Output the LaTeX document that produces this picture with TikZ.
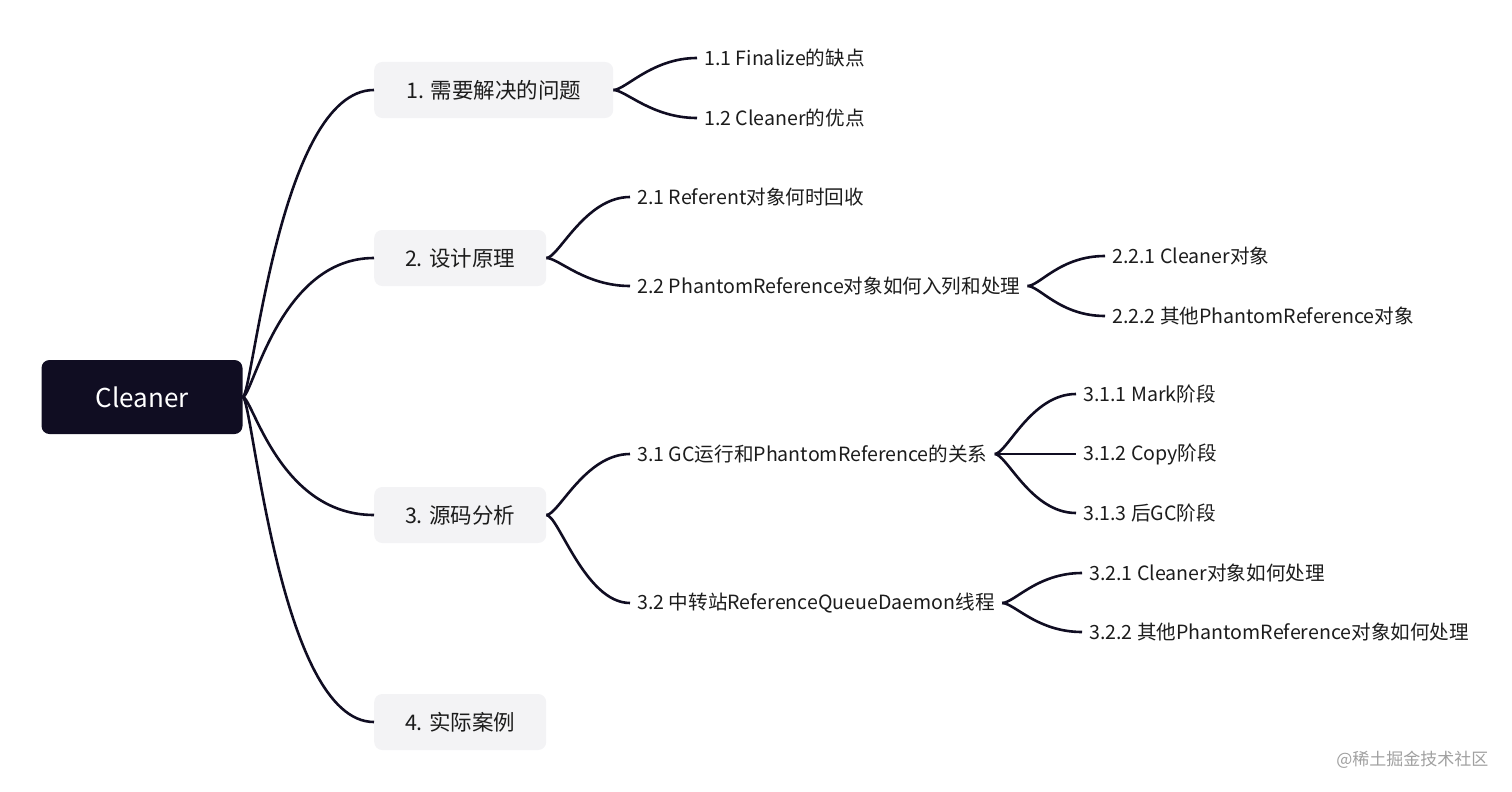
\documentclass[tikz,border=0pt]{standalone}
\usepackage{fontspec}
\setmainfont{Noto Sans CJK SC}
\usetikzlibrary{positioning}
\definecolor{navy}{HTML}{100D22}
\definecolor{boxgray}{HTML}{F3F3F5}
\definecolor{txt}{HTML}{1C1C1C}
\definecolor{mark}{HTML}{A0A0A0}

\begin{document}
\begin{tikzpicture}[x=1pt,y=-1pt,
  rootbox/.style={fill=navy, rounded corners=8pt, text=white, font=\fontsize{26}{30}\selectfont, minimum width=201pt, minimum height=74pt},
  topic/.style={fill=boxgray, rounded corners=8pt, text=txt, font=\fontsize{21.5}{25}\selectfont, minimum height=56pt, minimum width=172pt, inner xsep=30pt, anchor=west},
  leaf/.style={text=txt, font=\fontsize{19.6}{23}\selectfont, inner xsep=7pt, inner ysep=2pt, anchor=west},
  conn/.style={draw=navy, line width=2.6pt}]
				\useasboundingbox (0,0) rectangle (1512,792);
				\node[rootbox] (C) at (142,397) {Cleaner};
				\node[topic, minimum width=239pt] (T1) at (374,90) {1. 需要解决的问题};
				\node[topic] (T2) at (374,258) {2. 设计原理};
				\node[topic] (T3) at (374,515) {3. 源码分析};
				\node[topic] (T4) at (374,722) {4. 实际案例};
				\node[leaf] (L11) at (697,58) {1.1 Finalize的缺点};
				\node[leaf] (L12) at (697,118) {1.2 Cleaner的优点};
				\node[leaf] (L21) at (630,197) {2.1 Referent对象何时回收};
				\node[leaf] (L22) at (630,286) {2.2 PhantomReference对象如何入列和处理};
				\node[leaf] (L221) at (1105,256) {2.2.1 Cleaner对象};
				\node[leaf] (L222) at (1105,316) {2.2.2 其他PhantomReference对象};
				\node[leaf] (L31) at (630,454) {3.1 GC运行和PhantomReference的关系};
				\node[leaf] (L32) at (630,603) {3.2 中转站ReferenceQueueDaemon线程};
				\node[leaf] (L311) at (1076,394) {3.1.1 Mark阶段};
				\node[leaf] (L312) at (1076,454) {3.1.2 Copy阶段};
				\node[leaf] (L313) at (1076,513) {3.1.3 后GC阶段};
				\node[leaf] (L321) at (1082,573) {3.2.1 Cleaner对象如何处理};
				\node[leaf] (L322) at (1082,632) {3.2.2 其他PhantomReference对象如何处理};
				\node[anchor=east, text=mark, font=\fontsize{17}{20}\selectfont] (wm) at (1492,760) {@稀土掘金技术社区};
				\foreach \t in {T1,T2,T3,T4}
					\draw[conn] (C.east) .. controls +(10,0) and +(-95,0) .. (\t.west);
				\foreach \a/\b in {T1/L11,T1/L12,T2/L21,T2/L22,L22/L221,L22/L222,T3/L31,T3/L32,L31/L311,L31/L312,L31/L313,L32/L321,L32/L322}
					\draw[conn] (\a.east) .. controls +(12,0) and +(-45,0) .. (\b.west);
			\end{tikzpicture}
\end{document}
